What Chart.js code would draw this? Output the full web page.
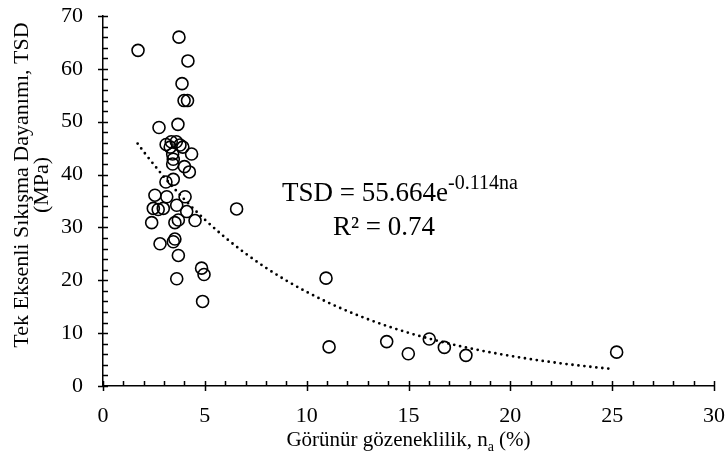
<!DOCTYPE html>
<html>
<head>
<meta charset="utf-8">
<script src="https://cdn.jsdelivr.net/npm/chart.js@4/dist/chart.umd.min.js"></script>
<style>
  html, body { margin: 0; padding: 0; background: #fff; }
  #wrap { width: 726px; height: 465px; }
</style>
</head>
<body>
<div id="wrap"><canvas id="tsdChart" width="726" height="465"></canvas></div>
<script>
// apparent porosity n_a (%) and UCS (MPa)
const porosity = [
    1.72, 3.73, 4.17, 3.88, 3.98, 4.15, 2.75, 3.68, 3.10, 3.35,
    3.60, 3.78, 3.92, 3.30, 3.42, 3.45, 3.42, 4.35, 4.00, 4.24,
    3.09, 3.45, 2.55, 3.13, 4.03, 2.47, 2.71, 2.96, 3.62, 4.11,
    4.52, 2.39, 3.53, 3.70, 6.56, 2.80, 3.45, 3.53, 3.70, 4.84,
    4.96, 3.62, 4.89, 10.95, 11.10, 13.93, 14.99, 16.02, 16.76, 17.82,
    25.22
];
const tsd = [
    63.5, 66.0, 61.5, 57.2, 54.0, 54.0, 48.9, 49.5, 45.7, 46.2,
    46.2, 45.6, 45.2, 45.2, 43.9, 42.9, 42.0, 43.9, 41.5, 40.5,
    38.6, 39.1, 36.1, 35.8, 35.8, 33.6, 33.4, 33.6, 34.2, 33.0,
    31.3, 30.9, 30.9, 31.4, 33.5, 26.9, 27.3, 27.8, 24.7, 22.3,
    21.1, 20.3, 16.0, 20.4, 7.4, 8.4, 6.1, 8.9, 7.3, 5.8,
    6.4
];

// fitted trend shown on the chart: TSD = 55.664 e^(-0.114 na)
const fitA = 55.664;
const fitB = -0.114;
const trendX = [1.7, 2, 3, 4, 5, 6, 7, 8, 9, 10, 11, 12, 13, 14, 15, 16, 17, 18, 19, 20, 21, 22, 23, 24, 25];

const xTicks = [0, 5, 10, 15, 20, 25, 30];
const yTicks = [0, 10, 20, 30, 40, 50, 60, 70];

const SERIF = '"Liberation Serif", "Times New Roman", serif';

const points = porosity.map((x, i) => ({ x: x, y: tsd[i] }));
const trend = trendX.map(x => ({ x: x, y: fitA * Math.exp(fitB * x) }));

// draw a run of text pieces (normal / sub / sup) starting at x
function drawRuns(ctx, runs, x, y) {
    runs.forEach(r => {
        ctx.font = r.size + 'px ' + SERIF;
        ctx.fillText(r.text, x, y + (r.dy || 0));
        x += ctx.measureText(r.text).width;
    });
}
function runsWidth(ctx, runs) {
    let w = 0;
    runs.forEach(r => {
        ctx.font = r.size + 'px ' + SERIF;
        w += ctx.measureText(r.text).width;
    });
    return w;
}

function noPad(s) {
    s.paddingTop = 0;
    s.paddingBottom = 0;
    s.paddingLeft = 0;
    s.paddingRight = 0;
}

const extras = {
    id: 'extras',
    afterDraw(chart) {
        const ctx = chart.ctx;
        const xs = chart.scales.x, ys = chart.scales.y;
        const area = chart.chartArea;
        ctx.save();
        ctx.strokeStyle = '#000';
        ctx.lineWidth = 1.5;
        ctx.beginPath();
        for (let v = 0; v <= 30; v++) {
            const px = Math.round(xs.getPixelForValue(v)) + 0.5;
            ctx.moveTo(px, area.bottom - 5);
            ctx.lineTo(px, v % 5 === 0 ? area.bottom + 5 : area.bottom);
        }
        for (let v = 0; v <= 70; v += 2) {
            const py = Math.round(ys.getPixelForValue(v)) + 0.5;
            ctx.moveTo(v % 10 === 0 ? area.left - 5 : area.left, py);
            ctx.lineTo(area.left + 5, py);
        }
        ctx.stroke();

        ctx.fillStyle = '#000';
        ctx.textBaseline = 'alphabetic';
        ctx.textAlign = 'left';

        // x axis title with subscript
        const xRuns = [
            { text: 'Görünür gözeneklilik, n', size: 21 },
            { text: 'a', size: 14, dy: 5 },
            { text: ' (%)', size: 21 }
        ];
        const xw = runsWidth(ctx, xRuns);
        drawRuns(ctx, xRuns, (area.left + area.right) / 2 - xw / 2, 446);

        // y axis title, two lines, rotated
        ctx.save();
        ctx.rotate(-Math.PI / 2);
        ctx.textAlign = 'center';
        ctx.font = '22px ' + SERIF;
        const cy = 185;
        ctx.fillText('Tek Eksenli Sıkışma Dayanımı, TSD', -cy, 28);
        ctx.fillText('(MPa)', -cy, 48);
        ctx.restore();

        // trend equation
        ctx.textAlign = 'left';
        drawRuns(ctx, [
            { text: 'TSD = 55.664e', size: 27 },
            { text: '-0.114na', size: 20, dy: -12 }
        ], 282, 201);
        drawRuns(ctx, [
            { text: 'R² = 0.74', size: 27 }
        ], 333, 235);
        ctx.restore();
    }
};

new Chart(document.getElementById('tsdChart').getContext('2d'), {
    type: 'scatter',
    data: {
        datasets: [{
            label: 'TSD',
            data: points,
            showLine: false,
            pointStyle: 'circle',
            pointRadius: 6,
            pointBorderWidth: 1.6,
            borderColor: '#000',
            backgroundColor: 'rgba(0,0,0,0)'
        }, {
            label: 'Trend',
            data: trend,
            showLine: true,
            pointRadius: 0,
            borderColor: '#000',
            borderWidth: 2.8,
            borderDash: [0, 6],
            borderCapStyle: 'round',
            cubicInterpolationMode: 'monotone'
        }]
    },
    options: {
        responsive: false,
        animation: false,
        layout: { padding: { top: 16, right: 12, left: 0, bottom: 0 } },
        plugins: {
            legend: { display: false },
            tooltip: { enabled: false }
        },
        scales: {
            x: {
                type: 'linear',
                min: 0,
                max: 30,
                afterFit: s => { s.height = 79; noPad(s); },
                afterBuildTicks: s => { s.ticks = xTicks.map(v => ({ value: v })); },
                grid: { display: false, drawTicks: false },
                border: { display: true, color: '#000', width: 1.5 },
                ticks: { color: '#000', padding: 17, maxRotation: 0, font: { family: SERIF, size: 22 } }
            },
            y: {
                type: 'linear',
                min: 0,
                max: 70,
                afterFit: s => { s.width = 103; noPad(s); },
                afterBuildTicks: s => { s.ticks = yTicks.map(v => ({ value: v })); },
                grid: { display: false, drawTicks: false },
                border: { display: true, color: '#000', width: 1.5 },
                ticks: { color: '#000', padding: 20, font: { family: SERIF, size: 22 } }
            }
        }
    },
    plugins: [extras]
});
</script>
</body>
</html>
